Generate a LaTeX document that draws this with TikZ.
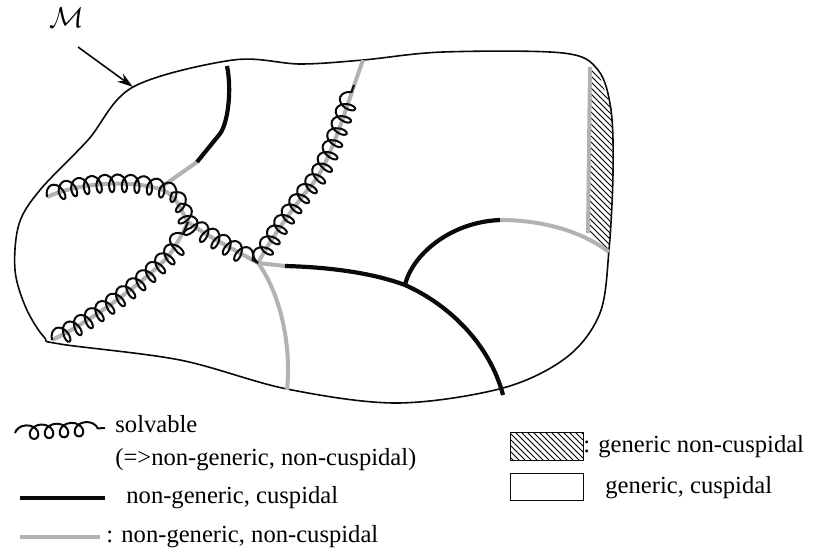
\documentclass[tikz,border=0pt]{standalone}
\usepackage{fontspec}
\setmainfont{Liberation Serif}
\usetikzlibrary{arrows.meta,decorations.pathmorphing,patterns,calc}
\definecolor{ncgray}{RGB}{178,178,178}
\definecolor{inkcolor}{RGB}{10,10,10}

\begin{document}
\begin{tikzpicture}[x=0.5pt, y=-0.5pt, font=\fontsize{12.3}{14}\selectfont,
    rim/.style={inkcolor, line width=0.8pt},
    cusp/.style={inkcolor, line width=2.1pt},
    noncusp/.style={ncgray, line width=2pt},
    solv/.style={inkcolor, line width=1pt, decorate,
      decoration={coil, amplitude=4.5pt, segment length=6.4pt, aspect=0.6}},
    legtext/.style={anchor=west, inner sep=1pt}]
  \useasboundingbox (0,0) rectangle (821,553);
  % junction points
  \coordinate (hub) at (258,263);
  \coordinate (knee) at (405,285);
  \coordinate (cross) at (188,222);
  % hatched strip on the right
  \fill[pattern=north west lines] (590,67) -- (588,233) -- (609,251)
    -- (613,173) -- (612,110) -- (598,72) -- cycle;
  \draw[noncusp] (590,67) -- (589,150) -- (588,233);
  % the manifold
  \draw[rim] plot[smooth cycle, tension=0.55] coordinates {(60,344) (44,337) (26,308) (15,270)
    (19,224) (40,190) (88,140) (133,87) (233,60) (300,64) (363,60) (443,52) (563,53)
    (598,70) (611,110) (613,173) (609,250) (600,313) (567,357) (503,388) (397,403)
    (287,389) (180,360)};
  \node[font=\fontsize{14}{16}\selectfont] (mlabel) at (67,18) {$\mathcal{M}$};
  \coordinate (mtail) at (78,47);
  \coordinate (mtip) at (133,87);
  \draw[inkcolor, line width=0.8pt, -{Stealth[length=8pt,width=5pt]}] (mtail) -- (mtip);
  % non-generic, non-cuspidal
  \draw[noncusp] (47,197) .. controls (80,182) and (130,180) .. (160,189)
    .. controls (178,195) and (180,210) .. (cross) .. controls (205,235) and (235,250) .. (hub);
  \draw[noncusp] (52,340) .. controls (90,322) and (140,285) .. (167,258)
    .. controls (177,245) and (183,232) .. (cross);
  \draw[noncusp] (hub) .. controls (270,240) and (295,205) .. (310,187)
    .. controls (330,165) and (345,110) .. (363,60);
  \draw[noncusp] (hub) .. controls (278,290) and (292,340) .. (287,390);
  \draw[noncusp] (hub) -- (285,266);
  \draw[noncusp] (500,220) .. controls (540,220) and (580,230) .. (609,252);
  \draw[noncusp] (197,162) -- (160,188);
  % cuspidal
  \draw[cusp] (227,66) .. controls (232,90) and (228,125) .. (219,135) -- (197,162);
  \draw[cusp] (285,266) .. controls (325,267) and (370,272) .. (knee)
    .. controls (450,305) and (490,345) .. (503,395);
  \draw[cusp] (knee) .. controls (412,255) and (450,222) .. (500,220);
  % solvable
  \draw[solv] (47,197) .. controls (80,182) and (130,180) .. (160,189)
    .. controls (178,195) and (180,210) .. (cross) .. controls (205,235) and (235,250) .. (hub);
  \draw[solv] (52,340) .. controls (90,322) and (140,285) .. (167,258)
    .. controls (177,245) and (183,232) .. (cross);
  \draw[solv] (hub) .. controls (270,240) and (295,205) .. (310,187)
    .. controls (328,167) and (343,115) .. (354,85);
  % legend
  \draw[solv, decoration={coil, amplitude=3.5pt, segment length=7.5pt, aspect=1.1}] (15,433) -- (105,428);
  \node[legtext] (lgsolv) at (113,424) {solvable};
  \node[legtext] (lgsolvb) at (113,460) {(=>non-generic, non-cuspidal)};
  \draw[cusp] (20,498) -- (105,498);
  \node[legtext] (lgcusp) at (124,498) {non-generic, cuspidal};
  \draw[noncusp] (20,537) -- (100,537);
  \node[legtext] (lgnoncusp) at (104,537) {: non-generic, non-cuspidal};
  \draw[inkcolor, line width=0.4pt, pattern=north west lines] (510,432) rectangle (583,460);
  \node[legtext] (lghatch) at (581,447) {: generic non-cuspidal};
  \draw[inkcolor, line width=0.4pt] (510,473) rectangle (583,500);
  \node[legtext] (lgblank) at (603,488) {generic, cuspidal};
\end{tikzpicture}
\end{document}
